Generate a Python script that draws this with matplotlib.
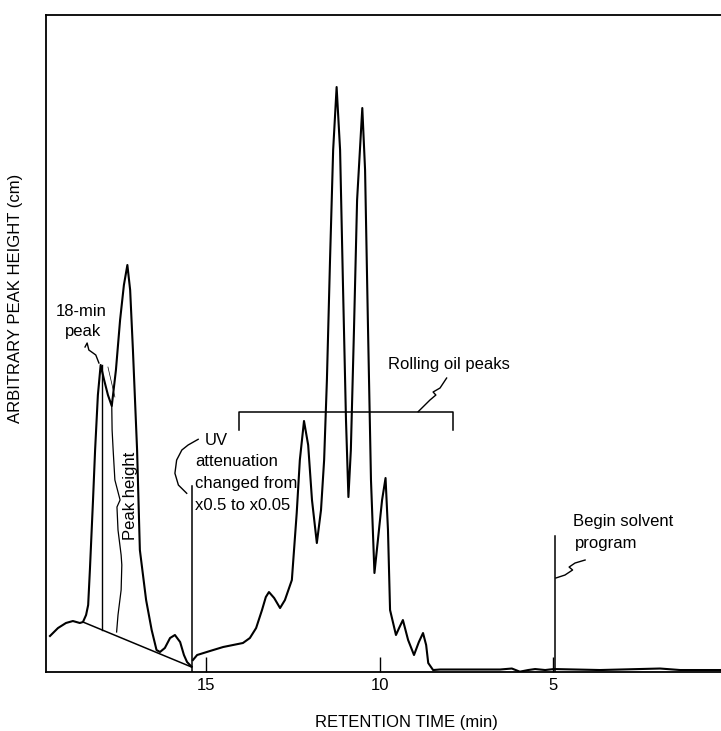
import matplotlib
matplotlib.use("Agg")
import matplotlib.pyplot as plt

plt.rcParams['font.family'] = ['Liberation Sans', 'DejaVu Sans']

# chromatogram trace, retention time (min) vs arbitrary height
time_left = [19.51, 19.28, 19.05, 18.85, 18.65, 18.56, 18.47, 18.41, 18.36, 18.27,
             18.21, 18.13, 18.05, 17.95, 17.84, 17.73, 17.61, 17.49, 17.38, 17.28,
             17.20, 17.12, 17.00, 16.92, 16.74, 16.58, 16.44, 16.34, 16.20, 16.05,
             15.91, 15.76, 15.65, 15.56, 15.43]
height_left = [0.534, 0.655, 0.732, 0.762, 0.732, 0.747, 0.854, 1.006, 1.540, 2.607,
               3.369, 4.207, 4.665, 4.436, 4.207, 4.040, 4.588, 5.351, 5.884, 6.189,
               5.808, 4.893, 3.369, 1.845, 1.082, 0.625, 0.320, 0.290, 0.351, 0.503,
               0.549, 0.442, 0.244, 0.137, 0.066]

time_right = [15.39, 15.27, 14.90, 14.52, 13.95, 13.75, 13.57, 13.40, 13.29, 13.20,
              13.05, 12.88, 12.74, 12.54, 12.40, 12.31, 12.19, 12.07, 11.96, 11.82,
              11.70, 11.61, 11.53, 11.44, 11.35, 11.25, 11.15, 11.07, 10.98, 10.91,
              10.84, 10.75, 10.66, 10.51, 10.43, 10.35, 10.26, 10.16, 10.06, 9.94,
              9.84, 9.77, 9.71, 9.54, 9.45, 9.34, 9.19, 9.02, 8.88, 8.76,
              8.67, 8.61, 8.47, 8.27, 7.41, 6.54, 6.20, 5.97, 5.73, 5.53,
              5.24, 4.99, 3.66, 1.93, 1.35, 0.17]
height_right = [0.168, 0.244, 0.305, 0.366, 0.427, 0.503, 0.655, 0.930, 1.128, 1.204,
                1.113, 0.960, 1.082, 1.387, 2.409, 3.216, 3.811, 3.445, 2.607, 1.951,
                2.454, 3.216, 4.436, 6.265, 7.942, 8.902, 7.942, 5.960, 3.826, 2.652,
                3.369, 5.198, 7.180, 8.582, 7.637, 5.351, 2.912, 1.494, 1.997, 2.607,
                2.942, 2.149, 0.930, 0.549, 0.655, 0.777, 0.473, 0.244, 0.442, 0.579,
                0.396, 0.122, 0.015, 0.023, 0.023, 0.023, 0.038, -0.01, 0.015, 0.030,
                0.015, 0.030, 0.015, 0.038, 0.015, 0.015]

# annotation geometry (same units)
tangent_t = [18.56, 15.43]
tangent_h = [0.747, 0.061]
peak18_t = [18.00, 18.00]
peak18_h = [0.628, 4.665]
ext_t = [17.84, 17.64]
ext_h = [4.634, 4.177]
brace_t = [17.73, 17.72, 17.69, 17.64, 17.49, 17.58, 17.55, 17.46, 17.44, 17.46, 17.55, 17.59]
brace_h = [4.040, 3.674, 3.369, 2.912, 2.607, 2.500, 2.149, 1.768, 1.616, 1.235, 0.854, 0.595]
sq18_t = [18.50, 18.44, 18.39, 18.27, 18.19, 18.10]
sq18_h = [4.939, 5.0, 4.893, 4.848, 4.817, 4.695]

uv_t = [15.43, 15.43]
uv_h = [-0.02, 2.820]
uvbrace_t = [15.24, 15.53, 15.71, 15.86, 15.91, 15.81, 15.57]
uvbrace_h = [3.532, 3.445, 3.369, 3.216, 3.014, 2.835, 2.709]
uv_lines = ["UV", "attenuation", "changed from", "x0.5 to x0.05"]
uv_text_t = [15.04, 15.33, 15.33, 15.33]
uv_text_h = [3.521, 3.191, 2.861, 2.530]

roll_t = [14.05, 14.05, 7.905, 7.905]
roll_h = [3.67, 3.948, 3.948, 3.67]
rollsq_t = [8.90, 8.56, 8.39, 8.47, 8.27, 8.08]
rollsq_h = [3.953, 4.131, 4.207, 4.253, 4.314, 4.466]

solv_t = [4.96, 4.96]
solv_h = [-0.02, 2.058]
solvsq_t = [4.93, 4.67, 4.45, 4.55, 4.38, 4.09]
solvsq_h = [1.418, 1.463, 1.540, 1.585, 1.646, 1.692]

xticks = [15, 10, 5]

W, H = 721, 731
fs = 12
fig = plt.figure(figsize=(W / 100, H / 100), dpi=100)
ax = fig.add_axes([46 / W, (H - 672) / H, 675 / W, 657 / H])

ax.plot(time_left, height_left, color='black', lw=1.5)
ax.plot(time_right, height_right, color='black', lw=1.5)

ax.plot(tangent_t, tangent_h, color='black', lw=1.1)
ax.plot(peak18_t, peak18_h, color='black', lw=1.0)
ax.plot(ext_t, ext_h, color='black', lw=0.5)
ax.plot(brace_t, brace_h, color='black', lw=0.9)
ax.plot(sq18_t, sq18_h, color='black', lw=1.0)
ax.text(18.62, 5.477, "18-min", ha='center', va='center', fontsize=fs)
ax.text(18.57, 5.172, "peak", ha='center', va='center', fontsize=fs)
ax.text(17.20, 2.668, "Peak height", ha='center', va='center', rotation=90, fontsize=fs)

ax.plot(uv_t, uv_h, color='black', lw=1.1)
ax.plot(uvbrace_t, uvbrace_h, color='black', lw=1.0)
for s, t, h in zip(uv_lines, uv_text_t, uv_text_h):
    ax.text(t, h, s, ha='left', va='center', fontsize=fs)

ax.plot(roll_t, roll_h, color='black', lw=1.1)
ax.plot(rollsq_t, rollsq_h, color='black', lw=1.0)
ax.text(9.78, 4.665, "Rolling oil peaks", ha='left', va='center', fontsize=fs)

ax.plot(solv_t, solv_h, color='black', lw=1.1)
ax.plot(solvsq_t, solvsq_h, color='black', lw=1.0)
ax.text(4.44, 2.276, "Begin solvent", ha='left', va='center', fontsize=fs)
ax.text(4.38, 1.951, "program", ha='left', va='center', fontsize=fs)

ax.set_xlim(19.625, 0.173)
ax.set_ylim(-0.015, 10.0)
ax.set_xticks(xticks)
ax.set_xticklabels([str(v) for v in xticks], fontsize=fs)
ax.set_yticks([])
ax.tick_params(axis='x', direction='in', length=11, width=1.0, pad=4)
ax.spines['right'].set_visible(False)
for side in ['left', 'bottom', 'top']:
    ax.spines[side].set_linewidth(1.3)

fig.text(406 / W, 1 - 722 / H, "RETENTION TIME (min)", ha='center', va='center', fontsize=fs)
fig.text(16 / W, 1 - 298 / H, "ARBITRARY PEAK HEIGHT (cm)", ha='center', va='center',
         rotation=90, fontsize=fs)

fig.savefig("out.png", dpi=100)
